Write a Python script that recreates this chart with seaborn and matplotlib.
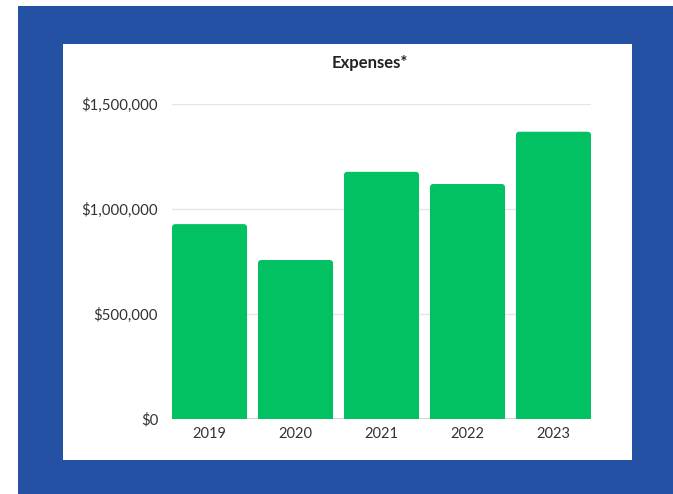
import matplotlib
matplotlib.use("Agg")
import matplotlib.pyplot as plt
from matplotlib.patches import Rectangle, FancyBboxPatch
from matplotlib.ticker import FuncFormatter
import seaborn as sns
import pandas as pd

# Annual expenses
years = ["2019", "2020", "2021", "2022", "2023"]
expenses = [928000, 757000, 1177000, 1119000, 1368000]
y_ticks = [0, 500000, 1000000, 1500000]

BLUE = "#2451A4"
GREEN = "#02C163"
TEXT = "#333333"

sns.set_theme(style="white")
plt.rcParams["font.family"] = ["Lato", "DejaVu Sans"]

fig = plt.figure(figsize=(6.73, 4.94), dpi=100)
W, H = 673, 494

# Blue frame and white card behind the chart
fig.patches.append(Rectangle((18 / W, 0), 1 - 18 / W, 488 / H,
                             transform=fig.transFigure, facecolor=BLUE,
                             edgecolor="none", zorder=-2))
fig.patches.append(Rectangle((63 / W, 34 / H), (632 - 63) / W, (460 - 44) / H,
                             transform=fig.transFigure, facecolor="white",
                             edgecolor="none", zorder=-1))

ax = fig.add_axes([172 / W, 75 / H, (591 - 172) / W, (419 - 104) / H])
ax.set_zorder(2)
ax.set_facecolor("none")

df = pd.DataFrame({"year": years, "expenses": expenses})
width = 0.873
sns.barplot(data=df, x="year", y="expenses", color=GREEN, width=width,
            saturation=1, ax=ax, zorder=3)

ax.set_xlim(-width / 2, len(years) - 1 + width / 2)
ax.set_ylim(0, y_ticks[-1])

# Swap plain bars for ones with rounded top corners
x_per_px = (len(years) - 1 + width) / (591 - 172)
y_per_px = y_ticks[-1] / (419 - 104)
r = 3.5 * x_per_px
for p in list(ax.patches):
    x0, w, h = p.get_x(), p.get_width(), p.get_height()
    p.remove()
    ax.add_patch(FancyBboxPatch((x0, -h * 0.1), w, h * 1.1,
                                boxstyle=f"round,pad=0,rounding_size={r}",
                                mutation_aspect=y_per_px / x_per_px,
                                facecolor=GREEN, edgecolor="none",
                                zorder=3, clip_on=True))

ax.set_yticks(y_ticks)
ax.yaxis.set_major_formatter(FuncFormatter(lambda v, _: f"${v:,.0f}"))
ax.grid(axis="y", color="#e6e6e6", linewidth=1, zorder=0)
ax.set_axisbelow(True)
ax.axhline(0, color="#cccccc", linewidth=1.2, zorder=2)
for s in ax.spines.values():
    s.set_visible(False)
ax.tick_params(axis="y", length=0, pad=10, labelsize=10.8, labelcolor=TEXT)
ax.tick_params(axis="x", length=0, pad=6, labelsize=10.5, labelcolor=TEXT)
ax.set_xlabel("")
ax.set_ylabel("")

fig.text(370 / W, 1 - 63 / H, "Expenses*", ha="center", va="center",
         fontsize=12, fontweight="bold", color="#222222", zorder=5)

fig.savefig("out.png", dpi=100)
